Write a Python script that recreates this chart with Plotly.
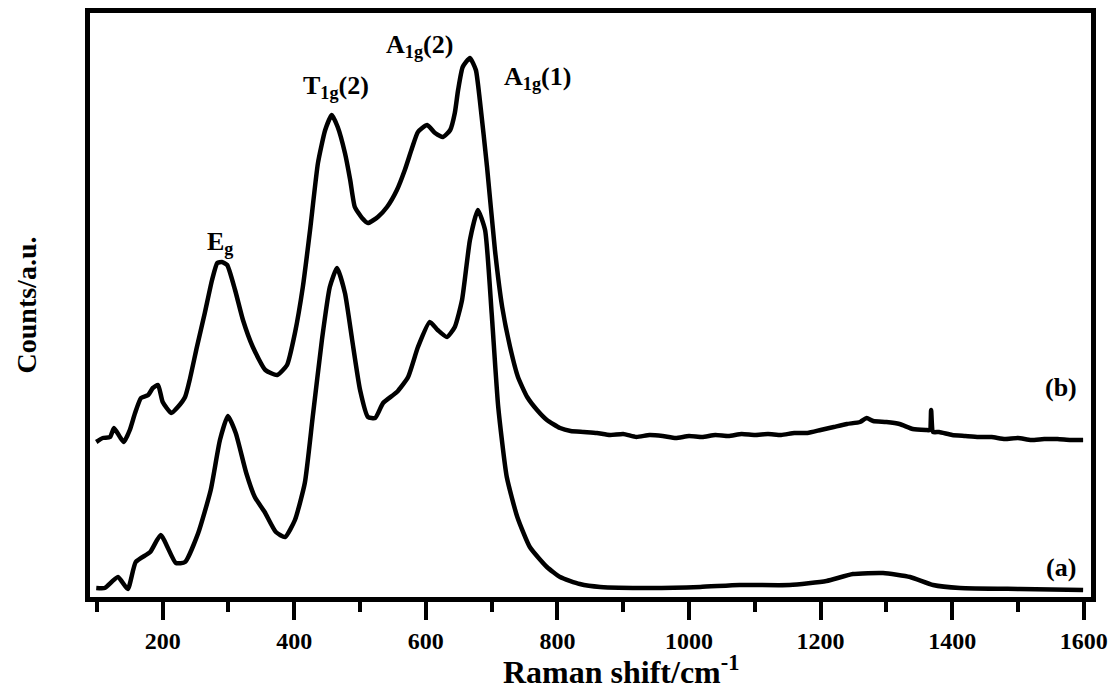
import plotly.graph_objects as go

# Raman shift (cm^-1) and intensity (a.u.) for spectrum (a)
shift_a = [99, 112, 132, 147, 159, 181, 197, 220, 234, 254, 273, 287, 299, 311, 327, 340, 355, 372, 386,
           401, 416, 428, 442, 454, 465, 477, 488, 500, 512, 523, 535, 556, 573, 588, 606, 618, 632, 644,
           655, 667, 679, 690, 700, 710, 723, 739, 758, 784, 804, 834, 865, 941, 1017, 1077, 1153, 1209,
           1249, 1295, 1336, 1371, 1412, 1503, 1599]
counts_a = [9, 9, 20, 8, 35, 45, 62, 34, 35, 64, 107, 157, 181, 164, 124, 100, 85, 65, 60,
            77, 114, 180, 257, 310, 329, 304, 257, 207, 180, 179, 194, 205, 220, 250, 275, 267, 260, 270,
            297, 357, 387, 367, 284, 190, 120, 80, 50, 30, 20, 13, 10, 9, 10, 12, 12, 16,
            23, 24, 20, 12, 9, 8, 7]

# Raman shift (cm^-1) and intensity (a.u.) for spectrum (b)
shift_b = [99, 109, 120, 126, 135, 141, 150, 158, 167, 178, 185, 193, 200, 213, 223, 234, 241, 252, 264,
           275, 283, 290, 298, 310, 322, 337, 356, 374, 389, 401, 413, 424, 436, 447, 457, 466, 477, 485,
           492, 503, 512, 527, 541, 556, 568, 579, 588, 602, 614, 626, 637, 644, 649, 656, 667, 676, 682,
           693, 705, 716, 728, 740, 754, 769, 784, 804, 820, 840, 860, 880, 900, 920, 940, 960, 980, 1000,
           1020, 1040, 1060, 1080, 1100, 1120, 1140, 1160, 1180, 1200, 1220, 1240, 1260, 1270, 1280, 1300,
           1320, 1340, 1360, 1366, 1368, 1371, 1380, 1400, 1420, 1440, 1460, 1480, 1500, 1520, 1540, 1560,
           1580, 1599]
counts_b = [155, 159, 160, 169, 160, 155, 167, 184, 199, 202, 209, 212, 195, 184, 190, 200, 217, 250, 284,
            317, 334, 335, 332, 307, 277, 250, 227, 222, 232, 264, 310, 367, 434, 467, 482, 470, 444, 417,
            390, 379, 374, 380, 390, 407, 427, 449, 465, 472, 464, 460, 467, 484, 507, 530, 539, 527, 497,
            430, 347, 290, 250, 220, 200, 187, 177, 169, 166, 165, 164, 162, 163, 160, 162, 161, 159, 161,
            160, 162, 161, 163, 162, 163, 162, 164, 164, 167, 170, 173, 175, 179, 176, 175,
            173, 168, 167, 167, 187, 165, 165, 162, 161, 160, 160, 158, 159, 157, 158, 158,
            157, 157]

peak_labels = ["E<sub>g</sub>", "T<sub>1g</sub>(2)", "A<sub>1g</sub>(2)", "A<sub>1g</sub>(1)", "(b)", "(a)"]
peak_x = [287, 463, 590, 769, 1565, 1565]
peak_y = [354, 510, 551, 519, 210, 30]

x_title = "Raman shift/cm<sup>-1</sup>"
y_title = "Counts/a.u."

FONT = "Liberation Serif"

fig = go.Figure()
for xs, ys, name in [(shift_a, counts_a, "a"), (shift_b, counts_b, "b")]:
    fig.add_trace(go.Scatter(x=xs, y=ys, mode="lines", name=name,
                             line=dict(color="black", width=4.5, shape="spline", smoothing=0.5),
                             showlegend=False))

for t, x, y in zip(peak_labels, peak_x, peak_y):
    fig.add_annotation(x=x, y=y, xref="x", yref="y", text=t, showarrow=False,
                       xanchor="center", yanchor="middle",
                       font=dict(family=FONT, size=26, color="black", weight="bold"))

# x-axis title placed below the tick labels
fig.add_annotation(x=0.53, y=-0.162, xref="paper", yref="paper", text=x_title, showarrow=False,
                   xanchor="center", yanchor="bottom",
                   font=dict(family=FONT, size=32, color="black", weight="bold"))

fig.update_layout(
    width=1110, height=690,
    margin=dict(l=90, r=19, t=13, b=93),
    paper_bgcolor="white", plot_bgcolor="white",
    font=dict(family=FONT, color="black"),
)
fig.update_xaxes(
    range=[89.5, 1611], showline=True, linecolor="black", linewidth=5, mirror=True,
    showgrid=False, zeroline=False, automargin=False,
    ticks="outside", ticklen=18, tickwidth=4, tickcolor="black",
    tickmode="linear", tick0=0, dtick=200,
    minor=dict(ticks="outside", ticklen=10, tickwidth=4, tickcolor="black", tickmode="linear", tick0=0, dtick=100, showgrid=False),
    tickfont=dict(family=FONT, size=24, color="black", weight="bold"),
)
fig.update_yaxes(
    range=[0, 584], showline=True, linecolor="black", linewidth=5, mirror=True,
    showgrid=False, zeroline=False, showticklabels=False, ticks="", automargin=False,
    title=dict(text=y_title, font=dict(family=FONT, size=28, color="black", weight="bold"), standoff=42),
)

fig.write_html("out.html")
